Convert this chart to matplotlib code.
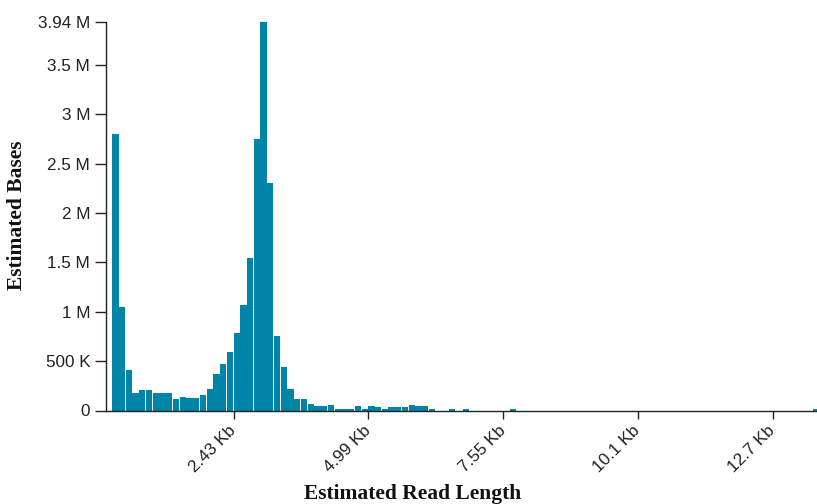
import matplotlib.pyplot as plt
from matplotlib.ticker import FixedLocator

# histogram of read lengths, bins of 0.128 Kb (bin 1 = 0.128-0.256 Kb)
bin_width_kb = 0.128
bases_m = [
    2.80, 1.05, 0.41, 0.18, 0.21, 0.21, 0.18, 0.18, 0.18, 0.115,
    0.14, 0.125, 0.125, 0.16, 0.22, 0.37, 0.47, 0.59, 0.78, 1.07,
    1.54, 2.75, 3.94, 2.30, 0.75, 0.44, 0.22, 0.12, 0.12, 0.07,
    0.047, 0.047, 0.06, 0.02, 0.02, 0.02, 0.047, 0.02, 0.047, 0.033,
    0.02, 0.033, 0.033, 0.033, 0.06, 0.047, 0.047, 0.02, 0.0, 0.0,
    0.02, 0.0, 0.02, 0.0, 0.0, 0.0, 0.0, 0.0, 0.0, 0.02,
    0.0, 0.0, 0.0, 0.0, 0.0, 0.0, 0.0, 0.0, 0.0, 0.0,
    0.0, 0.0, 0.0, 0.0, 0.0, 0.0, 0.0, 0.0, 0.0, 0.0,
    0.0, 0.0, 0.0, 0.0, 0.0, 0.0, 0.0, 0.0, 0.0, 0.0,
    0.0, 0.0, 0.0, 0.0, 0.0, 0.0, 0.0, 0.0, 0.0, 0.0,
    0.0, 0.0, 0.0, 0.0, 0.02,
]

x_ticks_kb = [2.432, 4.992, 7.552, 10.112, 12.672]
x_tick_labels = ['2.43 Kb', '4.99 Kb', '7.55 Kb', '10.1 Kb', '12.7 Kb']
y_ticks_m = [0, 0.5, 1, 1.5, 2, 2.5, 3, 3.5, 3.94]
y_tick_labels = ['0', '500 K', '1 M', '1.5 M', '2 M', '2.5 M', '3 M', '3.5 M', '3.94 M']

W, H = 817, 504
fig = plt.figure(figsize=(W / 100, H / 100), dpi=100)
ax = fig.add_axes([105.5 / W, (H - 410.5) / H, (W - 105.5) / W, 389 / H])

bar_color = '#0085a8'
lefts = [(i + 1) * bin_width_kb for i in range(len(bases_m))]
ax.bar(lefts, bases_m, width=bin_width_kb * 0.93, align='edge',
       color=bar_color, linewidth=0)

ax.set_xlim(0, (W - 105.5) / 52.64)
ax.set_ylim(0, max(bases_m))

for s in ['top', 'right']:
    ax.spines[s].set_visible(False)
for s in ['left', 'bottom']:
    ax.spines[s].set_linewidth(1.0)
    ax.spines[s].set_color('#222222')

tick_font = {'family': ['Liberation Sans', 'DejaVu Sans'], 'size': 12.3}

ax.yaxis.set_major_locator(FixedLocator(y_ticks_m))
ax.set_yticklabels(y_tick_labels, fontdict=tick_font, color='#222222')
ax.tick_params(axis='y', length=8, width=1, pad=3, color='#222222')

ax.xaxis.set_major_locator(FixedLocator(x_ticks_kb))
ax.set_xticklabels(x_tick_labels, fontdict=tick_font, color='#222222')
ax.tick_params(axis='x', length=6, width=1, pad=7, color='#222222')
for lbl in ax.get_xticklabels():
    lbl.set_rotation(45)
    lbl.set_ha('right')
    lbl.set_va('center')
    lbl.set_rotation_mode('anchor')

title_font = {'family': ['Liberation Serif', 'DejaVu Serif'], 'weight': 'bold', 'size': 15.5}
fig.text(412.5 / W, 5.5 / H, 'Estimated Read Length', ha='center', va='baseline',
         fontdict=title_font, color='#111111')
fig.text(17 / W, 1 - 215.5 / H, 'Estimated Bases', ha='center', va='center',
         rotation=90, fontdict=title_font, color='#111111')

fig.savefig('out.png', dpi=100)
